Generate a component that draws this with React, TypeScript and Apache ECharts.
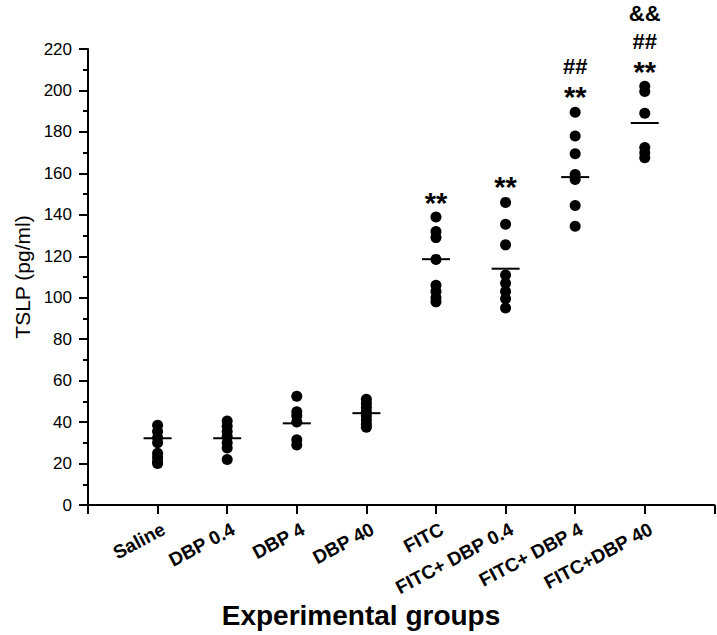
import React, { useEffect, useRef } from "react";
import * as echarts from "echarts";

const groups = ["Saline", "DBP 0.4", "DBP 4", "DBP 40", "FITC", "FITC+ DBP 0.4", "FITC+ DBP 4", "FITC+DBP 40"];

const saline = [38.5, 35.5, 32.5, 30, 25, 23, 21, 20];
const dbp04 = [40.5, 38, 35.5, 33, 30, 27.5, 22];
const dbp4 = [52.5, 45, 43, 40, 31.5, 29];
const dbp40 = [51, 49, 47, 45, 43, 41, 39, 37.5];
const fitc = [139, 132, 129, 118.5, 106, 103, 100, 98];
const fitcDbp04 = [146, 135.5, 125.5, 111, 107, 103, 99.5, 95];
const fitcDbp4 = [189.5, 178, 169.5, 159.5, 157, 144.5, 134.5];
const fitcDbp40 = [202, 199.5, 189, 172.5, 170, 167.5];

const groupMeans = [32.2, 32.2, 39.4, 44.3, 118.6, 114, 158.2, 184.3];

const annotGroup = [5, 6, 7, 7, 8, 8, 8];
const annotValue = [145.5, 153.5, 197, 211.6, 209, 223.7, 237.1];
const annotText = ["**", "**", "**", "##", "**", "##", "&&"];

const yTicks = { min: 0, max: 220, interval: 20 };

const FONT = '"Liberation Sans", Arial, sans-serif';

export default function App() {
  const ref = useRef<HTMLDivElement>(null);
  useEffect(() => {
    if (!ref.current) return;
    const chart = echarts.init(ref.current, null, { renderer: "svg" });
    const all = [saline, dbp04, dbp4, dbp40, fitc, fitcDbp04, fitcDbp4, fitcDbp40];
    const dots = all.flatMap((vals, i) => vals.map((v) => [i + 1, v]));
    const means = groupMeans.map((m, i) => [i + 1, m]);
    const annots = annotText.map((t, i) => ({
      name: t,
      value: [annotGroup[i], annotValue[i]],
      label: { fontSize: t === "**" ? 29 : 22 },
    }));
    chart.setOption({
      animation: false,
      grid: { left: 88, top: 49, height: 456, width: 644.4 },
      xAxis: {
        type: "value",
        min: 0,
        max: 9,
        interval: 1,
        splitLine: { show: false },
        axisLine: { lineStyle: { color: "#000", width: 2 } },
        axisTick: { length: 9, lineStyle: { color: "#000", width: 2 } },
        axisLabel: {
          rotate: 28,
          margin: 26,
          padding: [0, -7, 0, 0],
          color: "#000",
          fontFamily: FONT,
          fontWeight: "bold",
          fontSize: 19,
          formatter: (v: number) => (v >= 1 && v <= groups.length ? groups[v - 1] : ""),
        },
      },
      yAxis: {
        type: "value",
        min: yTicks.min,
        max: yTicks.max,
        interval: yTicks.interval,
        splitLine: { show: false },
        axisLine: { show: true, lineStyle: { color: "#000", width: 2 } },
        axisTick: { show: true, length: 9, lineStyle: { color: "#000", width: 2 } },
        minorTick: { show: true, splitNumber: 2, length: 5, lineStyle: { color: "#000", width: 2 } },
        axisLabel: { color: "#000", fontFamily: FONT, fontSize: 17, margin: 16 },
        name: "TSLP (pg/ml)",
        nameLocation: "middle",
        nameGap: 55,
        nameTextStyle: { color: "#000", fontFamily: FONT, fontSize: 21 },
      },
      graphic: [
        {
          type: "text",
          x: 361,
          y: 615,
          style: {
            text: "Experimental groups",
            textAlign: "center",
            textVerticalAlign: "middle",
            font: `bold 28px ${FONT}`,
            fill: "#000",
          },
        },
      ],
      series: [
        {
          type: "scatter",
          data: dots,
          symbol: "circle",
          symbolSize: 11,
          itemStyle: { color: "#000", opacity: 1 },
        },
        {
          type: "scatter",
          data: means,
          symbol: "rect",
          symbolSize: [28, 2],
          itemStyle: { color: "#000", opacity: 1 },
          z: 3,
        },
        {
          type: "scatter",
          data: annots,
          clip: false,
          symbolSize: 1,
          itemStyle: { color: "rgba(0,0,0,0)", opacity: 1 },
          label: {
            show: true,
            position: "inside",
            formatter: "{b}",
            color: "#000",
            opacity: 1,
            fontFamily: FONT,
            fontWeight: "bold",
          },
        },
      ],
    });
    return () => chart.dispose();
  }, []);
  return (
    <div
      ref={ref}
      style={{ position: "fixed", left: 0, top: 0, width: 717, height: 635, background: "#fff" }}
    />
  );
}
